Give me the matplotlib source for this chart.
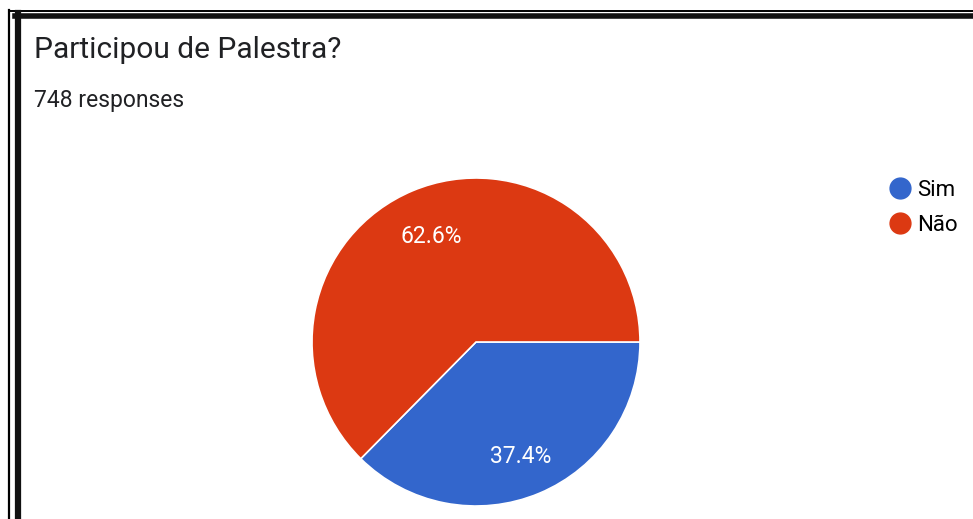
import matplotlib
matplotlib.use("Agg")
import matplotlib.pyplot as plt
from matplotlib.lines import Line2D

labels = ["Sim", "Não"]
values = [37.4, 62.6]
colors = ["#3366cc", "#dc3912"]
title = "Participou de Palestra?"
subtitle = "748 responses"

W, H = 973, 519
plt.rcParams['font.family'] = ['Roboto', 'DejaVu Sans']
fig = plt.figure(figsize=(W / 100, H / 100), dpi=100)

def fx(px):
    return px / W

def fy(py):
    return 1 - py / H

# screenshot frame lines
fig.add_artist(Line2D([fx(9), fx(9)], [fy(10), 0], color="black", lw=1.6))
fig.add_artist(Line2D([fx(9), 1], [fy(10.5), fy(10.5)], color="black", lw=1.4))
fig.add_artist(Line2D([fx(18), fx(18)], [fy(13), 0], color="#111111", lw=4.5))
fig.add_artist(Line2D([fx(15), 1], [fy(15.5), fy(15.5)], color="#111111", lw=4.0))

fig.text(fx(34), fy(50), title, fontsize=21.5, color="#202124", va="center")
fig.text(fx(34), fy(100), subtitle, fontsize=16.5, color="#202124", va="center")

cx, cy, r = 476, 342, 164
ax = fig.add_axes([fx(cx - r), fy(cy + r), 2 * r / W, 2 * r / H])
wedges, texts, autotexts = ax.pie(values, colors=colors, startangle=0, counterclock=False,
                                  autopct='%1.1f%%', pctdistance=0.7,
                                  wedgeprops=dict(edgecolor="white", linewidth=1.2),
                                  textprops=dict(color="white", fontsize=16.5))
# the Sim label sits a bit lower in the original
x0, y0 = autotexts[0].get_position()
autotexts[0].set_position((x0, y0 - 0.05))
ax.set_xlim(-1, 1)
ax.set_ylim(-1, 1)
ax.set_aspect('equal')
ax.axis('off')

handles = [Line2D([], [], marker='o', linestyle='', markersize=15,
                  markerfacecolor=c, markeredgecolor=c) for c in colors]
fig.legend(handles, labels, loc='upper left', bbox_to_anchor=(fx(878), fy(171)),
           frameon=False, fontsize=16, handletextpad=0.15, labelspacing=0.62,
           borderaxespad=0, handlelength=1.2)

fig.savefig("out.png", dpi=100)
